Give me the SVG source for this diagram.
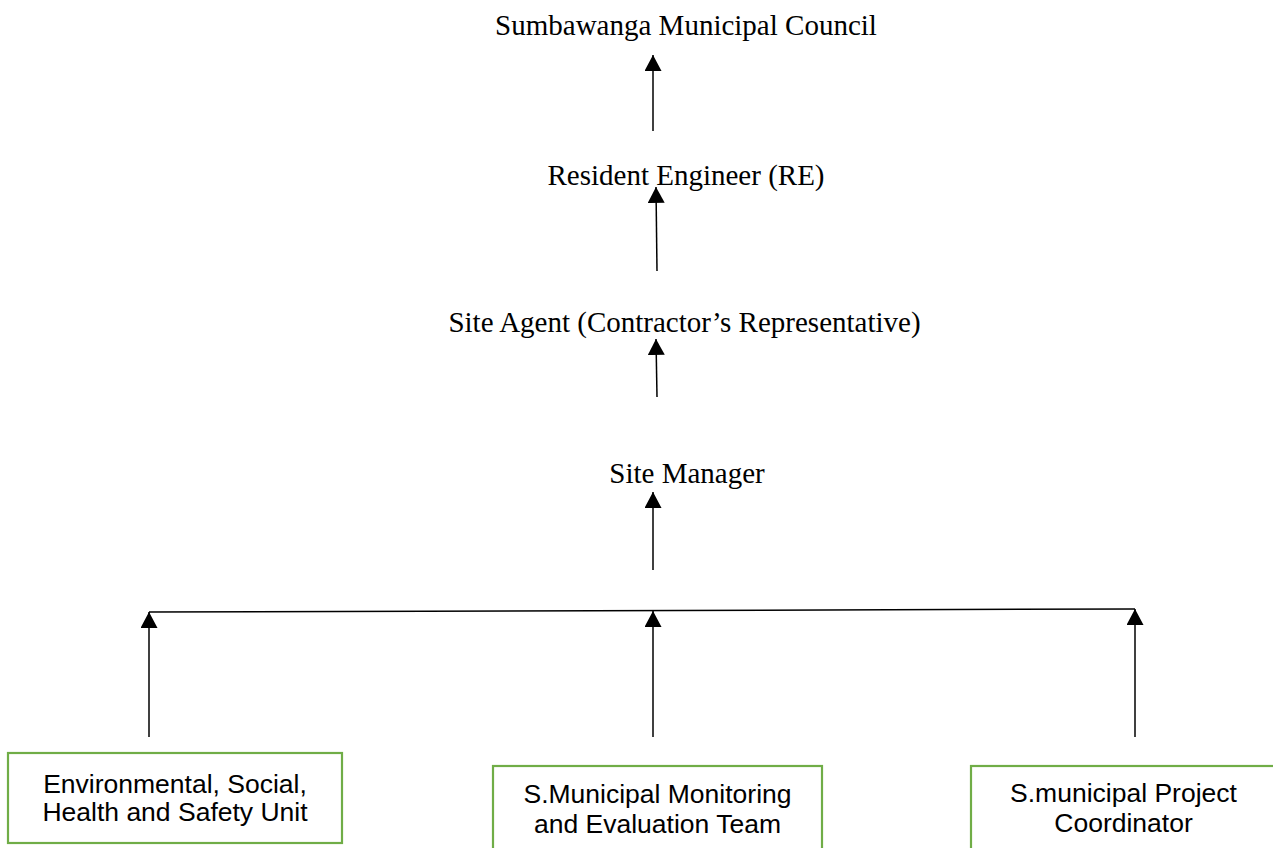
<svg xmlns="http://www.w3.org/2000/svg" width="1273" height="848" viewBox="0 0 1273 848">
<style>
.t{font-family:"Liberation Serif","Times New Roman",serif;font-size:29px;fill:#000;text-anchor:middle}
.b{font-family:"Liberation Sans",Arial,sans-serif;font-size:26.5px;fill:#000;text-anchor:middle}
.box{fill:#fff;stroke:#70AD47;stroke-width:2.2}
.c{stroke:#000;stroke-width:1.5;fill:none}
.a{marker-end:url(#ah)}
</style>
<defs>
<marker id="ah" markerUnits="userSpaceOnUse" markerWidth="17" markerHeight="17" viewBox="0 0 16 16" refX="15" refY="8" orient="auto">
<path d="M0,0 L15,8 L0,16 Z" fill="#000"/>
</marker>
</defs>
<rect width="1273" height="848" fill="#fff"/>
<g id="n-council"><text class="t" x="686" y="35">Sumbawanga Municipal Council</text></g>
<g id="n-re"><text class="t" x="686" y="185">Resident Engineer (RE)</text></g>
<g id="n-agent"><text class="t" x="684.5" y="332">Site Agent (Contractor’s Representative)</text></g>
<g id="n-manager"><text class="t" x="687" y="483">Site Manager</text></g>
<g id="n-eshs"><rect class="box" x="8" y="753" width="334" height="90"/>
<text class="b" x="175" y="793">Environmental, Social,</text>
<text class="b" x="175" y="821">Health and Safety Unit</text></g>
<g id="n-me"><rect class="box" x="493" y="766" width="329" height="100"/>
<text class="b" x="657.5" y="803">S.Municipal Monitoring</text>
<text class="b" x="657.5" y="833">and Evaluation Team</text></g>
<g id="n-pc"><rect class="box" x="971" y="766" width="305" height="100"/>
<text class="b" x="1123.5" y="802">S.municipal Project</text>
<text class="b" x="1123.5" y="832">Coordinator</text></g>
<g id="connectors">
<line class="c a" x1="653" y1="131" x2="653" y2="55"/>
<line class="c a" x1="657" y1="271" x2="656" y2="187"/>
<line class="c a" x1="657" y1="397" x2="656" y2="339"/>
<line class="c a" x1="653" y1="570" x2="653" y2="492"/>
<line class="c" x1="149" y1="612" x2="1135" y2="609"/>
<line class="c a" x1="149" y1="737" x2="149" y2="612"/>
<line class="c a" x1="653" y1="737" x2="653" y2="611"/>
<line class="c a" x1="1135" y1="737" x2="1135" y2="609"/>
</g>
</svg>
